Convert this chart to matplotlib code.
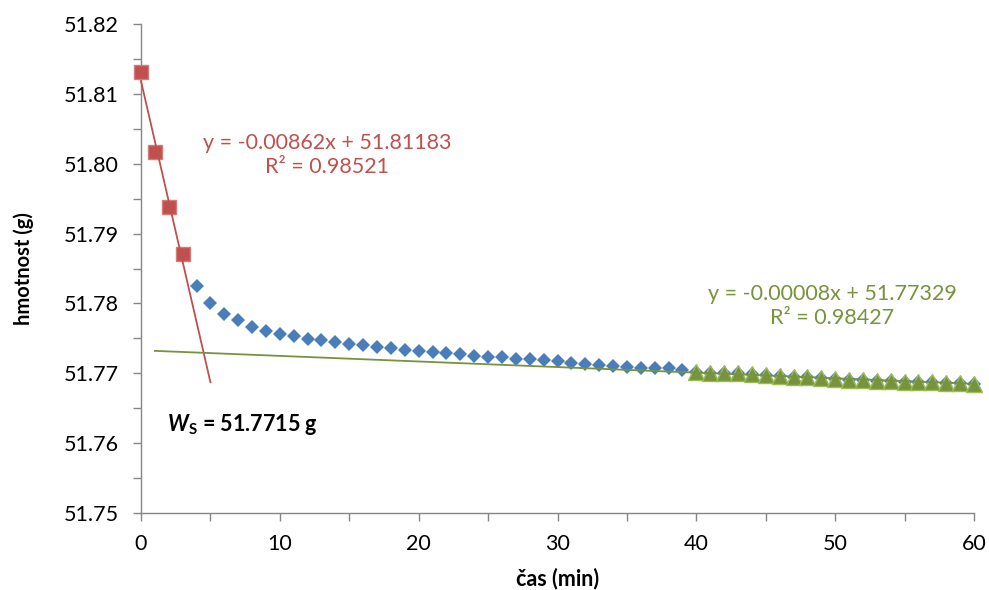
import matplotlib.pyplot as plt
import numpy as np
from matplotlib.ticker import MultipleLocator, FormatStrFormatter

time_min = np.arange(0, 61)
mass_g = [
    51.8132, 51.8017, 51.7938, 51.7871, 51.7825, 51.7801, 51.7785, 51.7776,
    51.7766, 51.7760, 51.7756, 51.7753, 51.7749, 51.7747, 51.7745, 51.7742,
    51.7740, 51.7737, 51.7736, 51.7734, 51.7732, 51.7731, 51.7729, 51.7727,
    51.7725, 51.7724, 51.7723, 51.7721, 51.7720, 51.7719, 51.7717, 51.7715,
    51.7713, 51.7712, 51.7711, 51.7709, 51.7708, 51.7707, 51.7707, 51.7705,
    51.7702, 51.7701, 51.7700, 51.7700, 51.7699, 51.7697, 51.7696, 51.7695,
    51.7694, 51.7693, 51.7692, 51.7691, 51.7690, 51.7689, 51.7689, 51.7688,
    51.7687, 51.7687, 51.7686, 51.7686, 51.7685,
]
initial_idx = slice(0, 4)     # red squares
drying_idx = slice(4, 61)     # blue diamonds
final_idx = slice(40, 61)     # green triangles

# linear trendlines (slope, intercept, x range)
red_fit = (-0.00862, 51.81183, (0, 5))
green_fit = (-0.00008, 51.77329, (1, 60))
red_label = "y = -0.00862x + 51.81183\nR² = 0.98521"
green_label = "y = -0.00008x + 51.77329\nR² = 0.98427"
ws_label = r"$\mathbfit{W}_{\mathbf{S}}$ = 51.7715 g"

RED = "#C0504D"
BLUE = "#4A7EBB"
GREEN = "#9BBB59"
GREEN_DARK = "#77933C"
AXIS = "#868686"

plt.rcParams.update({
    "font.family": ["Lato", "DejaVu Sans"],
    "font.size": 15.5,
    "mathtext.fontset": "custom",
    "mathtext.rm": "Lato",
    "mathtext.bf": "Lato:bold",
    "mathtext.bfit": "Lato:bold:italic",
})

fig = plt.figure(figsize=(9.89, 5.90), dpi=100)
ax = fig.add_axes([141 / 989, 1 - 513 / 590, 833 / 989, 489 / 590])

t = np.asarray(time_min)
m = np.asarray(mass_g)

ax.plot(t[drying_idx], m[drying_idx], linestyle="none", marker="D",
        markersize=7.5, color=BLUE, markeredgewidth=0, zorder=3, clip_on=False)
ax.plot(t[initial_idx], m[initial_idx], linestyle="none", marker="s",
        markersize=10.5, markerfacecolor=RED, markeredgecolor="#D47C79",
        markeredgewidth=1, zorder=4, clip_on=False)
ax.plot(t[final_idx], m[final_idx], linestyle="none", marker="^",
        markersize=11, markerfacecolor=GREEN_DARK, markeredgecolor=GREEN,
        markeredgewidth=1, zorder=4, clip_on=False)

for (slope, icpt, (x0, x1)), col in ((red_fit, RED), (green_fit, GREEN_DARK)):
    xs = np.array([x0, x1])
    ax.plot(xs, slope * xs + icpt, color=col, linewidth=1.3, zorder=5,
            clip_on=False)

ax.text(13.4, 51.8013, red_label, color=RED, ha="center", va="center",
        multialignment="center", linespacing=1.25)
ax.text(49.8, 51.7796, green_label, color=GREEN_DARK, ha="center", va="center",
        multialignment="center", linespacing=1.25)
ax.text(1.9, 51.7626, ws_label, color="black", ha="left", va="center",
        fontweight="bold")

ax.set_xlim(0, 60)
ax.set_ylim(51.75, 51.82)
ax.xaxis.set_major_locator(MultipleLocator(10))
ax.xaxis.set_minor_locator(MultipleLocator(5))
ax.yaxis.set_major_locator(MultipleLocator(0.01))
ax.yaxis.set_minor_locator(MultipleLocator(0.005))
ax.yaxis.set_major_formatter(FormatStrFormatter("%.2f"))

for side in ("top", "right"):
    ax.spines[side].set_visible(False)
for side in ("left", "bottom"):
    ax.spines[side].set_color(AXIS)
    ax.spines[side].set_linewidth(1)
ax.tick_params(which="both", direction="out", length=6, width=1, color=AXIS)
ax.tick_params(axis="y", pad=10)
ax.tick_params(axis="x", pad=9)

ax.set_xlabel("čas (min)", fontweight="bold", fontsize=15.5)
ax.set_ylabel("hmotnost (g)", fontweight="bold", fontsize=14.5)
ax.xaxis.set_label_coords(0.5, -0.112)
ax.yaxis.set_label_coords(-0.128, 0.5)

fig.savefig("out.png", dpi=100)
